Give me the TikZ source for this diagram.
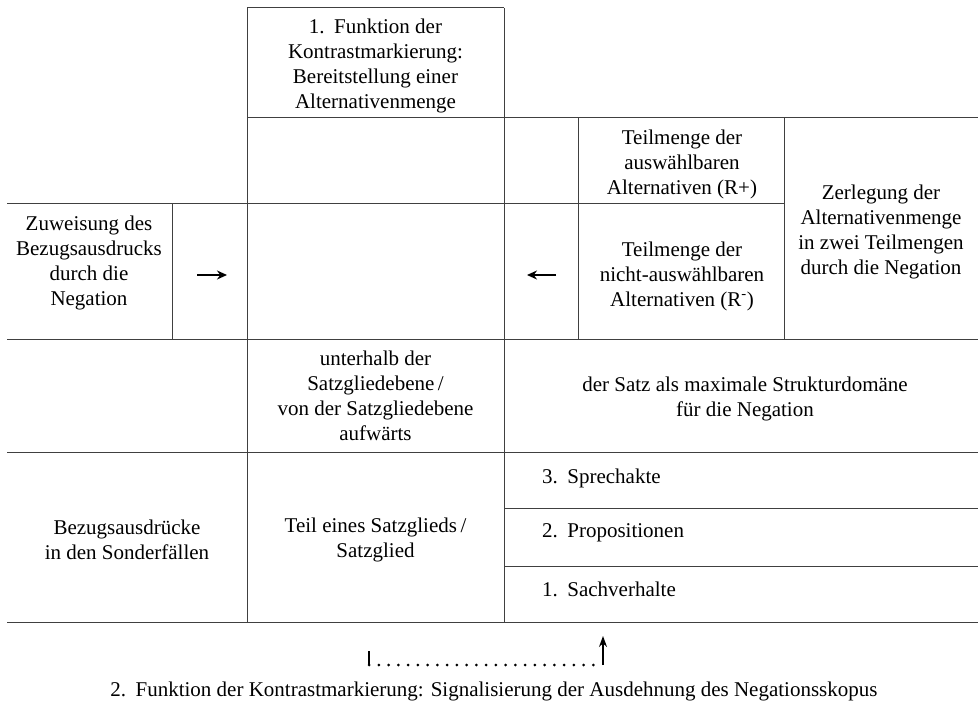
\documentclass[tikz,border=0pt]{standalone}
\usepackage{fontspec}
\setmainfont{Liberation Serif}
\usetikzlibrary{arrows.meta}
\begin{document}
\begin{tikzpicture}[x=1pt,y=-1pt,
  rule/.style={draw=black!75,line width=1pt},
  txt/.style={align=center,inner sep=0pt,font=\fontsize{21}{25}\selectfont},
  ltxt/.style={anchor=west,inner sep=0pt,font=\fontsize{21}{25}\selectfont},
  cellarrow/.style={line width=1.6pt,-{Stealth[length=10pt,width=9pt]}},
  dotline/.style={line width=3pt,line cap=round,dash pattern=on 0pt off 9.75pt},
  tick/.style={line width=1.4pt}]
\useasboundingbox (0,0) rectangle (978,703);
% table rules
\path[rule] (247,8) -- (504,8);
\path[rule] (247,118) -- (978,118);
\path[rule] (7,204) -- (784,204);
\path[rule] (7,340) -- (978,340);
\path[rule] (7,452) -- (978,452);
\path[rule] (504,508) -- (978,508);
\path[rule] (504,566) -- (978,566);
\path[rule] (7,622) -- (978,622);
\path[rule] (247,8) -- (247,622);
\path[rule] (504,8) -- (504,622);
\path[rule] (172,204) -- (172,340);
\path[rule] (578,118) -- (578,340);
\path[rule] (784,118) -- (784,340);
% texts
\node[txt] (top) at (375.5,66) {1.\hspace{0.45em}Funktion der\\Kontrastmarkierung:\\Bereitstellung einer\\Alternativenmenge};
\node[txt] (zuw) at (89,263) {Zuweisung des\\Bezugsausdrucks\\durch die\\Negation};
\node[txt] (tplus) at (682,164) {Teilmenge der\\auswählbaren\\Alternativen (R+)};
\node[txt] (tminus) at (682,276) {Teilmenge der\\nicht-auswählbaren\\Alternativen (R\textsuperscript{-})};
\node[txt] (zerl) at (881,232) {Zerlegung der\\Alternativenmenge\\in zwei Teilmengen\\durch die Negation};
\node[txt] (unter) at (375.5,396) {unterhalb der\\Satzgliedebene\,/\\von der Satzgliedebene\\aufwärts};
\node[txt] (satz) at (745,399) {der Satz als maximale Strukturdomäne\\für die Negation};
\node[txt] (bezug) at (127,540) {Bezugsausdrücke\\in den Sonderfällen};
\node[txt] (teil) at (375.5,540) {Teil eines Satzglieds\,/\\Satzglied};
\node[ltxt] (sprech) at (542,478) {3.\hspace{0.45em}Sprechakte};
\node[ltxt] (prop) at (542,533) {2.\hspace{0.45em}Propositionen};
\node[ltxt] (sach) at (542,589) {1.\hspace{0.45em}Sachverhalte};
\node[txt] (cap) at (494,691) {2.\hspace{0.45em}Funktion der Kontrastmarkierung: Signalisierung der Ausdehnung des Negationsskopus};
% arrows in cells
\coordinate (a1) at (197,275); \coordinate (a2) at (227,275);
\coordinate (b1) at (556,275); \coordinate (b2) at (527,275);
\draw[cellarrow] (a1) -- (a2);
\draw[cellarrow] (b1) -- (b2);
% dotted scope arrow
\coordinate (d0) at (369,651); \coordinate (d1) at (369,665);
\coordinate (d2) at (603,665); \coordinate (d3) at (603,636);
\draw[tick] (d0) -- (d1);
\draw[dotline] (d1) -- (d2);
\draw[tick,-{Stealth[length=11pt,width=8pt]}] (d2) -- (d3);
\end{tikzpicture}
\end{document}
